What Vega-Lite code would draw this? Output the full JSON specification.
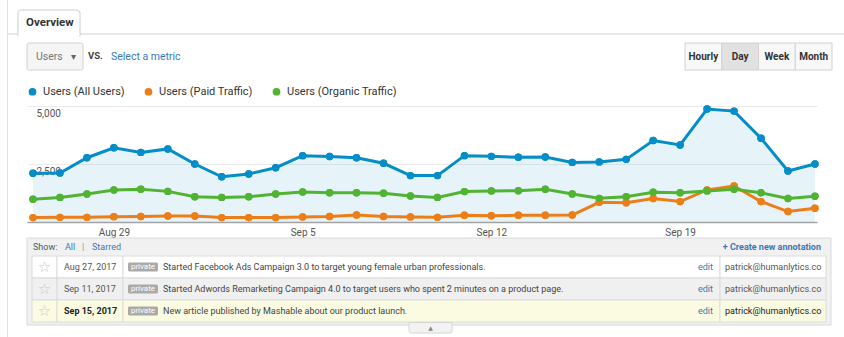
{
  "$schema": "https://vega.github.io/schema/vega-lite/v6.json",
  "background": "white",
  "padding": 0,
  "bounds": "flush",
  "center": true,
  "spacing": 0,
  "config": {"view": {"stroke": null}, "font": "Roboto"},
  "resolve": {"scale": {"color": "independent"}, "legend": {"color": "independent"}},
  "datasets": {
    "annotations": [
      {"label": "Aug 27, 2017", "day": "2017-08-27T00:00:00", "note": "Started Facebook Ads Campaign 3.0 to target young female urban professionals.", "user": "patrick@humanlytics.co"},
      {"label": "Sep 11, 2017", "day": "2017-09-11T00:00:00", "note": "Started Adwords Remarketing Campaign 4.0 to target users who spent 2 minutes on a product page.", "user": "patrick@humanlytics.co"},
      {"label": "Sep 15, 2017", "day": "2017-09-15T00:00:00", "note": "New article published by Mashable about our product launch.", "user": "patrick@humanlytics.co"}
    ],
    "users": [
      {"date": "2017-08-26T00:00:00", "series": "Users (All Users)", "value": 2100},
      {"date": "2017-08-27T00:00:00", "series": "Users (All Users)", "value": 2110},
      {"date": "2017-08-28T00:00:00", "series": "Users (All Users)", "value": 2770},
      {"date": "2017-08-29T00:00:00", "series": "Users (All Users)", "value": 3200},
      {"date": "2017-08-30T00:00:00", "series": "Users (All Users)", "value": 3000},
      {"date": "2017-08-31T00:00:00", "series": "Users (All Users)", "value": 3150},
      {"date": "2017-09-01T00:00:00", "series": "Users (All Users)", "value": 2500},
      {"date": "2017-09-02T00:00:00", "series": "Users (All Users)", "value": 1950},
      {"date": "2017-09-03T00:00:00", "series": "Users (All Users)", "value": 2070},
      {"date": "2017-09-04T00:00:00", "series": "Users (All Users)", "value": 2340},
      {"date": "2017-09-05T00:00:00", "series": "Users (All Users)", "value": 2860},
      {"date": "2017-09-06T00:00:00", "series": "Users (All Users)", "value": 2820},
      {"date": "2017-09-07T00:00:00", "series": "Users (All Users)", "value": 2770},
      {"date": "2017-09-08T00:00:00", "series": "Users (All Users)", "value": 2530},
      {"date": "2017-09-09T00:00:00", "series": "Users (All Users)", "value": 2000},
      {"date": "2017-09-10T00:00:00", "series": "Users (All Users)", "value": 2000},
      {"date": "2017-09-11T00:00:00", "series": "Users (All Users)", "value": 2860},
      {"date": "2017-09-12T00:00:00", "series": "Users (All Users)", "value": 2830},
      {"date": "2017-09-13T00:00:00", "series": "Users (All Users)", "value": 2790},
      {"date": "2017-09-14T00:00:00", "series": "Users (All Users)", "value": 2800},
      {"date": "2017-09-15T00:00:00", "series": "Users (All Users)", "value": 2570},
      {"date": "2017-09-16T00:00:00", "series": "Users (All Users)", "value": 2590},
      {"date": "2017-09-17T00:00:00", "series": "Users (All Users)", "value": 2700},
      {"date": "2017-09-18T00:00:00", "series": "Users (All Users)", "value": 3510},
      {"date": "2017-09-19T00:00:00", "series": "Users (All Users)", "value": 3320},
      {"date": "2017-09-20T00:00:00", "series": "Users (All Users)", "value": 4870},
      {"date": "2017-09-21T00:00:00", "series": "Users (All Users)", "value": 4780},
      {"date": "2017-09-22T00:00:00", "series": "Users (All Users)", "value": 3610},
      {"date": "2017-09-23T00:00:00", "series": "Users (All Users)", "value": 2200},
      {"date": "2017-09-24T00:00:00", "series": "Users (All Users)", "value": 2500},
      {"date": "2017-08-26T00:00:00", "series": "Users (Paid Traffic)", "value": 190},
      {"date": "2017-08-27T00:00:00", "series": "Users (Paid Traffic)", "value": 200},
      {"date": "2017-08-28T00:00:00", "series": "Users (Paid Traffic)", "value": 200},
      {"date": "2017-08-29T00:00:00", "series": "Users (Paid Traffic)", "value": 230},
      {"date": "2017-08-30T00:00:00", "series": "Users (Paid Traffic)", "value": 240},
      {"date": "2017-08-31T00:00:00", "series": "Users (Paid Traffic)", "value": 260},
      {"date": "2017-09-01T00:00:00", "series": "Users (Paid Traffic)", "value": 260},
      {"date": "2017-09-02T00:00:00", "series": "Users (Paid Traffic)", "value": 190},
      {"date": "2017-09-03T00:00:00", "series": "Users (Paid Traffic)", "value": 190},
      {"date": "2017-09-04T00:00:00", "series": "Users (Paid Traffic)", "value": 190},
      {"date": "2017-09-05T00:00:00", "series": "Users (Paid Traffic)", "value": 220},
      {"date": "2017-09-06T00:00:00", "series": "Users (Paid Traffic)", "value": 240},
      {"date": "2017-09-07T00:00:00", "series": "Users (Paid Traffic)", "value": 300},
      {"date": "2017-09-08T00:00:00", "series": "Users (Paid Traffic)", "value": 240},
      {"date": "2017-09-09T00:00:00", "series": "Users (Paid Traffic)", "value": 220},
      {"date": "2017-09-10T00:00:00", "series": "Users (Paid Traffic)", "value": 200},
      {"date": "2017-09-11T00:00:00", "series": "Users (Paid Traffic)", "value": 290},
      {"date": "2017-09-12T00:00:00", "series": "Users (Paid Traffic)", "value": 270},
      {"date": "2017-09-13T00:00:00", "series": "Users (Paid Traffic)", "value": 290},
      {"date": "2017-09-14T00:00:00", "series": "Users (Paid Traffic)", "value": 290},
      {"date": "2017-09-15T00:00:00", "series": "Users (Paid Traffic)", "value": 300},
      {"date": "2017-09-16T00:00:00", "series": "Users (Paid Traffic)", "value": 850},
      {"date": "2017-09-17T00:00:00", "series": "Users (Paid Traffic)", "value": 830},
      {"date": "2017-09-18T00:00:00", "series": "Users (Paid Traffic)", "value": 1010},
      {"date": "2017-09-19T00:00:00", "series": "Users (Paid Traffic)", "value": 880},
      {"date": "2017-09-20T00:00:00", "series": "Users (Paid Traffic)", "value": 1380},
      {"date": "2017-09-21T00:00:00", "series": "Users (Paid Traffic)", "value": 1550},
      {"date": "2017-09-22T00:00:00", "series": "Users (Paid Traffic)", "value": 880},
      {"date": "2017-09-23T00:00:00", "series": "Users (Paid Traffic)", "value": 450},
      {"date": "2017-09-24T00:00:00", "series": "Users (Paid Traffic)", "value": 590},
      {"date": "2017-08-26T00:00:00", "series": "Users (Organic Traffic)", "value": 980},
      {"date": "2017-08-27T00:00:00", "series": "Users (Organic Traffic)", "value": 1060},
      {"date": "2017-08-28T00:00:00", "series": "Users (Organic Traffic)", "value": 1210},
      {"date": "2017-08-29T00:00:00", "series": "Users (Organic Traffic)", "value": 1380},
      {"date": "2017-08-30T00:00:00", "series": "Users (Organic Traffic)", "value": 1410},
      {"date": "2017-08-31T00:00:00", "series": "Users (Organic Traffic)", "value": 1320},
      {"date": "2017-09-01T00:00:00", "series": "Users (Organic Traffic)", "value": 1090},
      {"date": "2017-09-02T00:00:00", "series": "Users (Organic Traffic)", "value": 1060},
      {"date": "2017-09-03T00:00:00", "series": "Users (Organic Traffic)", "value": 1090},
      {"date": "2017-09-04T00:00:00", "series": "Users (Organic Traffic)", "value": 1210},
      {"date": "2017-09-05T00:00:00", "series": "Users (Organic Traffic)", "value": 1290},
      {"date": "2017-09-06T00:00:00", "series": "Users (Organic Traffic)", "value": 1260},
      {"date": "2017-09-07T00:00:00", "series": "Users (Organic Traffic)", "value": 1260},
      {"date": "2017-09-08T00:00:00", "series": "Users (Organic Traffic)", "value": 1240},
      {"date": "2017-09-09T00:00:00", "series": "Users (Organic Traffic)", "value": 1120},
      {"date": "2017-09-10T00:00:00", "series": "Users (Organic Traffic)", "value": 1060},
      {"date": "2017-09-11T00:00:00", "series": "Users (Organic Traffic)", "value": 1310},
      {"date": "2017-09-12T00:00:00", "series": "Users (Organic Traffic)", "value": 1340},
      {"date": "2017-09-13T00:00:00", "series": "Users (Organic Traffic)", "value": 1350},
      {"date": "2017-09-14T00:00:00", "series": "Users (Organic Traffic)", "value": 1410},
      {"date": "2017-09-15T00:00:00", "series": "Users (Organic Traffic)", "value": 1210},
      {"date": "2017-09-16T00:00:00", "series": "Users (Organic Traffic)", "value": 1020},
      {"date": "2017-09-17T00:00:00", "series": "Users (Organic Traffic)", "value": 1090},
      {"date": "2017-09-18T00:00:00", "series": "Users (Organic Traffic)", "value": 1280},
      {"date": "2017-09-19T00:00:00", "series": "Users (Organic Traffic)", "value": 1260},
      {"date": "2017-09-20T00:00:00", "series": "Users (Organic Traffic)", "value": 1340},
      {"date": "2017-09-21T00:00:00", "series": "Users (Organic Traffic)", "value": 1410},
      {"date": "2017-09-22T00:00:00", "series": "Users (Organic Traffic)", "value": 1260},
      {"date": "2017-09-23T00:00:00", "series": "Users (Organic Traffic)", "value": 1010},
      {"date": "2017-09-24T00:00:00", "series": "Users (Organic Traffic)", "value": 1110}
    ]
  },
  "vconcat": [
    {
      "width": 844,
      "height": 106,
      "resolve": {"scale": {"x": "independent", "y": "independent"}},
      "layer": [
        {
          "data": {"values": [{"part": "left border"}]},
          "mark": {"type": "rect", "fill": "#e2e2e2"},
          "encoding": {
            "x": {"datum": "b", "type": "nominal", "scale": {"type": "band", "range": [7, 8], "paddingInner": 0, "paddingOuter": 0}, "axis": null},
            "y": {"datum": "b", "type": "nominal", "scale": {"type": "band", "range": [0, 337], "paddingInner": 0, "paddingOuter": 0}, "axis": null}
          }
        },
        {
          "data": {"values": [{"part": "tab line"}]},
          "mark": {"type": "rect", "fill": "#d4d4d4"},
          "encoding": {
            "x": {"datum": "b", "type": "nominal", "scale": {"type": "band", "range": [7, 844], "paddingInner": 0, "paddingOuter": 0}, "axis": null},
            "y": {"datum": "b", "type": "nominal", "scale": {"type": "band", "range": [33.5, 34.5], "paddingInner": 0, "paddingOuter": 0}, "axis": null}
          }
        },
        {
          "data": {"values": [{"part": "tab"}]},
          "mark": {"type": "rect", "fill": "white", "stroke": "#cdcdcd", "strokeWidth": 1, "cornerRadiusTopLeft": 3, "cornerRadiusTopRight": 3},
          "encoding": {
            "x": {"datum": "b", "type": "nominal", "scale": {"type": "band", "range": [18, 80], "paddingInner": 0, "paddingOuter": 0}, "axis": null},
            "y": {"datum": "b", "type": "nominal", "scale": {"type": "band", "range": [10, 36], "paddingInner": 0, "paddingOuter": 0}, "axis": null}
          }
        },
        {
          "data": {"values": [{"part": "tab cover"}]},
          "mark": {"type": "rect", "fill": "white"},
          "encoding": {
            "x": {"datum": "b", "type": "nominal", "scale": {"type": "band", "range": [18.6, 79.4], "paddingInner": 0, "paddingOuter": 0}, "axis": null},
            "y": {"datum": "b", "type": "nominal", "scale": {"type": "band", "range": [33, 37], "paddingInner": 0, "paddingOuter": 0}, "axis": null}
          }
        },
        {
          "data": {"values": [{"label": "Overview"}]},
          "mark": {"type": "text", "align": "left", "baseline": "middle", "fontSize": 11.5, "fontWeight": "bold", "color": "#333"},
          "encoding": {
            "text": {"field": "label"},
            "x": {"datum": "t", "type": "nominal", "scale": {"type": "point", "range": [26, 26]}, "axis": null},
            "y": {"datum": "t", "type": "nominal", "scale": {"type": "point", "range": [23, 23]}, "axis": null}
          }
        },
        {
          "data": {"values": [{"part": "dropdown"}]},
          "mark": {"type": "rect", "fill": "#f5f5f5", "stroke": "#d2d2d2", "cornerRadius": 2},
          "encoding": {
            "x": {"datum": "b", "type": "nominal", "scale": {"type": "band", "range": [27, 83], "paddingInner": 0, "paddingOuter": 0}, "axis": null},
            "y": {"datum": "b", "type": "nominal", "scale": {"type": "band", "range": [43, 70], "paddingInner": 0, "paddingOuter": 0}, "axis": null}
          }
        },
        {
          "data": {"values": [{"label": "Users"}]},
          "mark": {"type": "text", "align": "left", "baseline": "middle", "fontSize": 10.5, "color": "#777"},
          "encoding": {
            "text": {"field": "label"},
            "x": {"datum": "t", "type": "nominal", "scale": {"type": "point", "range": [36, 36]}, "axis": null},
            "y": {"datum": "t", "type": "nominal", "scale": {"type": "point", "range": [57, 57]}, "axis": null}
          }
        },
        {
          "data": {"values": [{"label": "▾"}]},
          "mark": {"type": "text", "align": "center", "baseline": "middle", "fontSize": 10, "color": "#666"},
          "encoding": {
            "text": {"field": "label"},
            "x": {"datum": "t", "type": "nominal", "scale": {"type": "point", "range": [73, 73]}, "axis": null},
            "y": {"datum": "t", "type": "nominal", "scale": {"type": "point", "range": [56.5, 56.5]}, "axis": null}
          }
        },
        {
          "data": {"values": [{"label": "VS."}]},
          "mark": {"type": "text", "align": "left", "baseline": "middle", "fontSize": 9.5, "fontWeight": "bold", "color": "#444"},
          "encoding": {
            "text": {"field": "label"},
            "x": {"datum": "t", "type": "nominal", "scale": {"type": "point", "range": [88, 88]}, "axis": null},
            "y": {"datum": "t", "type": "nominal", "scale": {"type": "point", "range": [56, 56]}, "axis": null}
          }
        },
        {
          "data": {"values": [{"label": "Select a metric"}]},
          "mark": {"type": "text", "align": "left", "baseline": "middle", "fontSize": 10.5, "color": "#3a78b6"},
          "encoding": {
            "text": {"field": "label"},
            "x": {"datum": "t", "type": "nominal", "scale": {"type": "point", "range": [111, 111]}, "axis": null},
            "y": {"datum": "t", "type": "nominal", "scale": {"type": "point", "range": [57, 57]}, "axis": null}
          }
        },
        {
          "data": {"values": [{"label": "Hourly"}, {"label": "Day"}, {"label": "Week"}, {"label": "Month"}]},
          "mark": {"type": "rect", "stroke": "#d2d2d2", "strokeWidth": 1},
          "encoding": {
            "x": {"field": "label", "type": "nominal", "sort": null, "scale": {"type": "band", "domain": ["Hourly", "Day", "Week", "Month"], "range": [685, 832], "paddingInner": 0, "paddingOuter": 0}, "axis": null},
            "y": {"datum": "b", "type": "nominal", "scale": {"type": "band", "range": [43, 70], "paddingInner": 0, "paddingOuter": 0}, "axis": null},
            "fill": {"condition": {"test": "datum.label === 'Day'", "value": "#e1e1e1"}, "value": "#f8f8f8"}
          }
        },
        {
          "data": {"values": [{"label": "Hourly"}, {"label": "Day"}, {"label": "Week"}, {"label": "Month"}]},
          "mark": {"type": "text", "align": "center", "baseline": "middle", "fontSize": 10, "fontWeight": "bold", "color": "#333"},
          "encoding": {
            "text": {"field": "label"},
            "x": {"field": "label", "type": "nominal", "sort": null, "scale": {"type": "point", "domain": ["Hourly", "Day", "Week", "Month"], "range": [685, 832], "padding": 0.5}, "axis": null},
            "y": {"datum": "t", "type": "nominal", "scale": {"type": "point", "range": [57, 57]}, "axis": null}
          }
        }
      ]
    },
    {
      "width": 790,
      "height": 116,
      "data": {"name": "users"},
      "encoding": {
        "x": {
          "field": "date", "type": "temporal",
          "scale": {"domain": [{"year": 2017, "month": 8, "date": 25, "hours": 18, "minutes": 40}, {"year": 2017, "month": 9, "date": 24, "hours": 1, "minutes": 50}]},
          "axis": {
            "values": [{"year": 2017, "month": 8, "date": 29}, {"year": 2017, "month": 9, "date": 5}, {"year": 2017, "month": 9, "date": 12}, {"year": 2017, "month": 9, "date": 19}],
            "format": "%b %-d", "title": null, "grid": false, "ticks": false, "tickSize": 0,
            "labelFontSize": 10, "labelColor": "#555", "labelPadding": 5, "labelFlush": false,
            "domainColor": "#a3a3a3", "domainWidth": 1.5
          }
        },
        "y": {
          "field": "value", "type": "quantitative",
          "scale": {"domain": [0, 5000], "nice": false},
          "axis": {
            "values": [2500, 5000], "format": ",.0f", "title": null, "domain": false, "ticks": false, "tickSize": 0,
            "grid": true, "gridColor": "#ebebeb", "labelAlign": "left", "labelBaseline": "top",
            "labelPadding": -9, "labelOffset": 2, "labelFontSize": 10, "labelColor": "#555"
          }
        }
      },
      "layer": [
        {
          "transform": [{"filter": "datum.series === 'Users (All Users)'"}],
          "mark": {"type": "area", "color": "#058dc7", "opacity": 0.1}
        },
        {
          "mark": {"type": "point", "filled": true, "size": 55, "opacity": 1},
          "encoding": {
            "color": {
              "field": "series", "type": "nominal",
              "scale": {"domain": ["Users (All Users)", "Users (Paid Traffic)", "Users (Organic Traffic)"], "range": ["#058dc7", "#ed7e17", "#50b432"]},
              "legend": {
                "orient": "top", "direction": "horizontal", "title": null, "symbolType": "circle", "symbolSize": 60,
                "symbolStrokeWidth": 0, "labelFontSize": 11, "labelColor": "#333", "columnPadding": 18,
                "labelOffset": 5, "offset": 6, "padding": 0
              }
            }
          }
        },
        {
          "mark": {"type": "line", "strokeWidth": 3},
          "encoding": {"color": {"field": "series", "type": "nominal"}}
        },
        {
          "transform": [{"filter": "datum.date === '2017-09-15T00:00:00'"}],
          "mark": {"type": "point", "filled": true, "fill": "white", "size": 95, "strokeWidth": 1.3, "opacity": 1},
          "encoding": {
            "stroke": {
              "field": "series", "type": "nominal",
              "scale": {"domain": ["Users (All Users)", "Users (Paid Traffic)", "Users (Organic Traffic)"], "range": ["#058dc7", "#ed7e17", "#50b432"]},
              "legend": null
            }
          }
        },
        {
          "mark": {"type": "point", "filled": true, "size": 55, "opacity": 1},
          "encoding": {"color": {"field": "series", "type": "nominal"}}
        },
        {
          "data": {"name": "annotations"},
          "mark": {"type": "square", "filled": true, "fill": "white", "stroke": "#9a9a9a", "strokeWidth": 1, "size": 45, "yOffset": 1, "opacity": 1},
          "encoding": {
            "x": {"field": "day", "type": "temporal"},
            "y": {"datum": 0}
          }
        }
      ]
    },
    {
      "width": 844,
      "height": 115,
      "data": {"name": "annotations"},
      "resolve": {"scale": {"x": "independent", "y": "independent"}},
      "layer": [
        {
          "data": {"values": [{"part": "table box"}]},
          "mark": {"type": "rect", "fill": "#f1f1f1", "stroke": "#dadada"},
          "encoding": {
            "x": {"datum": "b", "type": "nominal", "scale": {"type": "band", "range": [27, 831], "paddingInner": 0, "paddingOuter": 0}, "axis": null},
            "y": {"datum": "b", "type": "nominal", "scale": {"type": "band", "range": [16, 103], "paddingInner": 0, "paddingOuter": 0}, "axis": null}
          }
        },
        {
          "mark": {"type": "rect", "stroke": "#dcdcdc", "strokeWidth": 1},
          "encoding": {
            "x": {"datum": "c", "type": "nominal", "scale": {"type": "band", "range": [32, 57], "paddingInner": 0, "paddingOuter": 0}, "axis": null},
            "y": {"field": "label", "type": "nominal", "scale": {"type": "band", "domain": ["Aug 27, 2017", "Sep 11, 2017", "Sep 15, 2017"], "range": [34, 100], "paddingInner": 0, "paddingOuter": 0}, "axis": null},
            "fill": {"condition": [{"test": "datum.label === 'Sep 15, 2017'", "value": "#fbfbe2"}, {"test": "datum.label === 'Sep 11, 2017'", "value": "#f0f0f0"}], "value": "#ffffff"}
          }
        },
        {
          "mark": {"type": "rect", "stroke": "#dcdcdc", "strokeWidth": 1},
          "encoding": {
            "x": {"datum": "c", "type": "nominal", "scale": {"type": "band", "range": [57, 123], "paddingInner": 0, "paddingOuter": 0}, "axis": null},
            "y": {"field": "label", "type": "nominal", "scale": {"type": "band", "domain": ["Aug 27, 2017", "Sep 11, 2017", "Sep 15, 2017"], "range": [34, 100], "paddingInner": 0, "paddingOuter": 0}, "axis": null},
            "fill": {"condition": [{"test": "datum.label === 'Sep 15, 2017'", "value": "#fbfbe2"}, {"test": "datum.label === 'Sep 11, 2017'", "value": "#f0f0f0"}], "value": "#ffffff"}
          }
        },
        {
          "mark": {"type": "rect", "stroke": "#dcdcdc", "strokeWidth": 1},
          "encoding": {
            "x": {"datum": "c", "type": "nominal", "scale": {"type": "band", "range": [123, 720], "paddingInner": 0, "paddingOuter": 0}, "axis": null},
            "y": {"field": "label", "type": "nominal", "scale": {"type": "band", "domain": ["Aug 27, 2017", "Sep 11, 2017", "Sep 15, 2017"], "range": [34, 100], "paddingInner": 0, "paddingOuter": 0}, "axis": null},
            "fill": {"condition": [{"test": "datum.label === 'Sep 15, 2017'", "value": "#fbfbe2"}, {"test": "datum.label === 'Sep 11, 2017'", "value": "#f0f0f0"}], "value": "#ffffff"}
          }
        },
        {
          "mark": {"type": "rect", "stroke": "#dcdcdc", "strokeWidth": 1},
          "encoding": {
            "x": {"datum": "c", "type": "nominal", "scale": {"type": "band", "range": [720, 826], "paddingInner": 0, "paddingOuter": 0}, "axis": null},
            "y": {"field": "label", "type": "nominal", "scale": {"type": "band", "domain": ["Aug 27, 2017", "Sep 11, 2017", "Sep 15, 2017"], "range": [34, 100], "paddingInner": 0, "paddingOuter": 0}, "axis": null},
            "fill": {"condition": [{"test": "datum.label === 'Sep 15, 2017'", "value": "#fbfbe2"}, {"test": "datum.label === 'Sep 11, 2017'", "value": "#f0f0f0"}], "value": "#ffffff"}
          }
        },
        {
          "mark": {"type": "rect", "fill": "#aaaaaa", "cornerRadius": 1.5},
          "encoding": {
            "x": {"datum": "c", "type": "nominal", "scale": {"type": "band", "range": [128, 158], "paddingInner": 0, "paddingOuter": 0}, "axis": null},
            "y": {"field": "label", "type": "nominal", "scale": {"type": "band", "domain": ["Aug 27, 2017", "Sep 11, 2017", "Sep 15, 2017"], "range": [34, 100], "paddingInner": 0.59, "paddingOuter": 0.295}, "axis": null}
          }
        },
        {
          "mark": {"type": "text", "align": "center", "baseline": "middle", "fontSize": 15, "color": "#c9c9c9", "font": "DejaVu Sans"},
          "encoding": {
            "text": {"value": "☆"},
            "x": {"datum": "c", "type": "nominal", "scale": {"type": "point", "range": [44.5, 44.5]}, "axis": null},
            "y": {"field": "label", "type": "nominal", "scale": {"type": "point", "domain": ["Aug 27, 2017", "Sep 11, 2017", "Sep 15, 2017"], "range": [34, 100], "padding": 0.5}, "axis": null}
          }
        },
        {
          "transform": [{"filter": "datum.label !== 'Sep 15, 2017'"}],
          "mark": {"type": "text", "align": "left", "baseline": "middle", "fontSize": 9, "color": "#555"},
          "encoding": {
            "text": {"field": "label"},
            "x": {"datum": "c", "type": "nominal", "scale": {"type": "point", "range": [64, 64]}, "axis": null},
            "y": {"field": "label", "type": "nominal", "scale": {"type": "point", "domain": ["Aug 27, 2017", "Sep 11, 2017", "Sep 15, 2017"], "range": [34, 100], "padding": 0.5}, "axis": null}
          }
        },
        {
          "transform": [{"filter": "datum.label === 'Sep 15, 2017'"}],
          "mark": {"type": "text", "align": "left", "baseline": "middle", "fontSize": 9, "fontWeight": "bold", "color": "#222"},
          "encoding": {
            "text": {"field": "label"},
            "x": {"datum": "c", "type": "nominal", "scale": {"type": "point", "range": [64, 64]}, "axis": null},
            "y": {"field": "label", "type": "nominal", "scale": {"type": "point", "domain": ["Aug 27, 2017", "Sep 11, 2017", "Sep 15, 2017"], "range": [34, 100], "padding": 0.5}, "axis": null}
          }
        },
        {
          "mark": {"type": "text", "align": "center", "baseline": "middle", "fontSize": 8, "color": "white"},
          "encoding": {
            "text": {"value": "private"},
            "x": {"datum": "c", "type": "nominal", "scale": {"type": "point", "range": [143, 143]}, "axis": null},
            "y": {"field": "label", "type": "nominal", "scale": {"type": "point", "domain": ["Aug 27, 2017", "Sep 11, 2017", "Sep 15, 2017"], "range": [34, 100], "padding": 0.5}, "axis": null}
          }
        },
        {
          "mark": {"type": "text", "align": "left", "baseline": "middle", "fontSize": 9, "color": "#444"},
          "encoding": {
            "text": {"field": "note"},
            "x": {"datum": "c", "type": "nominal", "scale": {"type": "point", "range": [163, 163]}, "axis": null},
            "y": {"field": "label", "type": "nominal", "scale": {"type": "point", "domain": ["Aug 27, 2017", "Sep 11, 2017", "Sep 15, 2017"], "range": [34, 100], "padding": 0.5}, "axis": null}
          }
        },
        {
          "mark": {"type": "text", "align": "left", "baseline": "middle", "fontSize": 9, "color": "#3a78b6"},
          "encoding": {
            "text": {"value": "edit"},
            "x": {"datum": "c", "type": "nominal", "scale": {"type": "point", "range": [698, 698]}, "axis": null},
            "y": {"field": "label", "type": "nominal", "scale": {"type": "point", "domain": ["Aug 27, 2017", "Sep 11, 2017", "Sep 15, 2017"], "range": [34, 100], "padding": 0.5}, "axis": null}
          }
        },
        {
          "mark": {"type": "text", "align": "left", "baseline": "middle", "fontSize": 9},
          "encoding": {
            "text": {"field": "user"},
            "color": {"condition": {"test": "datum.label === 'Sep 15, 2017'", "value": "#222"}, "value": "#555"},
            "x": {"datum": "c", "type": "nominal", "scale": {"type": "point", "range": [725, 725]}, "axis": null},
            "y": {"field": "label", "type": "nominal", "scale": {"type": "point", "domain": ["Aug 27, 2017", "Sep 11, 2017", "Sep 15, 2017"], "range": [34, 100], "padding": 0.5}, "axis": null}
          }
        },
        {
          "data": {"values": [{"label": "Show:"}]},
          "mark": {"type": "text", "align": "left", "baseline": "middle", "fontSize": 9, "color": "#555"},
          "encoding": {
            "text": {"field": "label"},
            "x": {"datum": "t", "type": "nominal", "scale": {"type": "point", "range": [33, 33]}, "axis": null},
            "y": {"datum": "t", "type": "nominal", "scale": {"type": "point", "range": [25, 25]}, "axis": null}
          }
        },
        {
          "data": {"values": [{"label": "All"}]},
          "mark": {"type": "text", "align": "left", "baseline": "middle", "fontSize": 9, "color": "#3a78b6"},
          "encoding": {
            "text": {"field": "label"},
            "x": {"datum": "t", "type": "nominal", "scale": {"type": "point", "range": [65, 65]}, "axis": null},
            "y": {"datum": "t", "type": "nominal", "scale": {"type": "point", "range": [25, 25]}, "axis": null}
          }
        },
        {
          "data": {"values": [{"label": "|"}]},
          "mark": {"type": "text", "align": "left", "baseline": "middle", "fontSize": 9, "color": "#888"},
          "encoding": {
            "text": {"field": "label"},
            "x": {"datum": "t", "type": "nominal", "scale": {"type": "point", "range": [82, 82]}, "axis": null},
            "y": {"datum": "t", "type": "nominal", "scale": {"type": "point", "range": [25, 25]}, "axis": null}
          }
        },
        {
          "data": {"values": [{"label": "Starred"}]},
          "mark": {"type": "text", "align": "left", "baseline": "middle", "fontSize": 9, "color": "#3a78b6"},
          "encoding": {
            "text": {"field": "label"},
            "x": {"datum": "t", "type": "nominal", "scale": {"type": "point", "range": [92, 92]}, "axis": null},
            "y": {"datum": "t", "type": "nominal", "scale": {"type": "point", "range": [25, 25]}, "axis": null}
          }
        },
        {
          "data": {"values": [{"label": "+ Create new annotation"}]},
          "mark": {"type": "text", "align": "right", "baseline": "middle", "fontSize": 9, "fontWeight": "bold", "color": "#3a78b6"},
          "encoding": {
            "text": {"field": "label"},
            "x": {"datum": "t", "type": "nominal", "scale": {"type": "point", "range": [821, 821]}, "axis": null},
            "y": {"datum": "t", "type": "nominal", "scale": {"type": "point", "range": [25, 25]}, "axis": null}
          }
        },
        {
          "data": {"values": [{"part": "collapse tab"}]},
          "mark": {"type": "rect", "fill": "#f2f2f2", "stroke": "#d6d6d6", "cornerRadiusBottomLeft": 2, "cornerRadiusBottomRight": 2},
          "encoding": {
            "x": {"datum": "b", "type": "nominal", "scale": {"type": "band", "range": [409, 452], "paddingInner": 0, "paddingOuter": 0}, "axis": null},
            "y": {"datum": "b", "type": "nominal", "scale": {"type": "band", "range": [100.5, 111], "paddingInner": 0, "paddingOuter": 0}, "axis": null}
          }
        },
        {
          "data": {"values": [{"label": "▲"}]},
          "mark": {"type": "text", "align": "center", "baseline": "middle", "fontSize": 6, "color": "#888", "font": "DejaVu Sans"},
          "encoding": {
            "text": {"field": "label"},
            "x": {"datum": "t", "type": "nominal", "scale": {"type": "point", "range": [430.5, 430.5]}, "axis": null},
            "y": {"datum": "t", "type": "nominal", "scale": {"type": "point", "range": [106, 106]}, "axis": null}
          }
        }
      ]
    }
  ]
}
